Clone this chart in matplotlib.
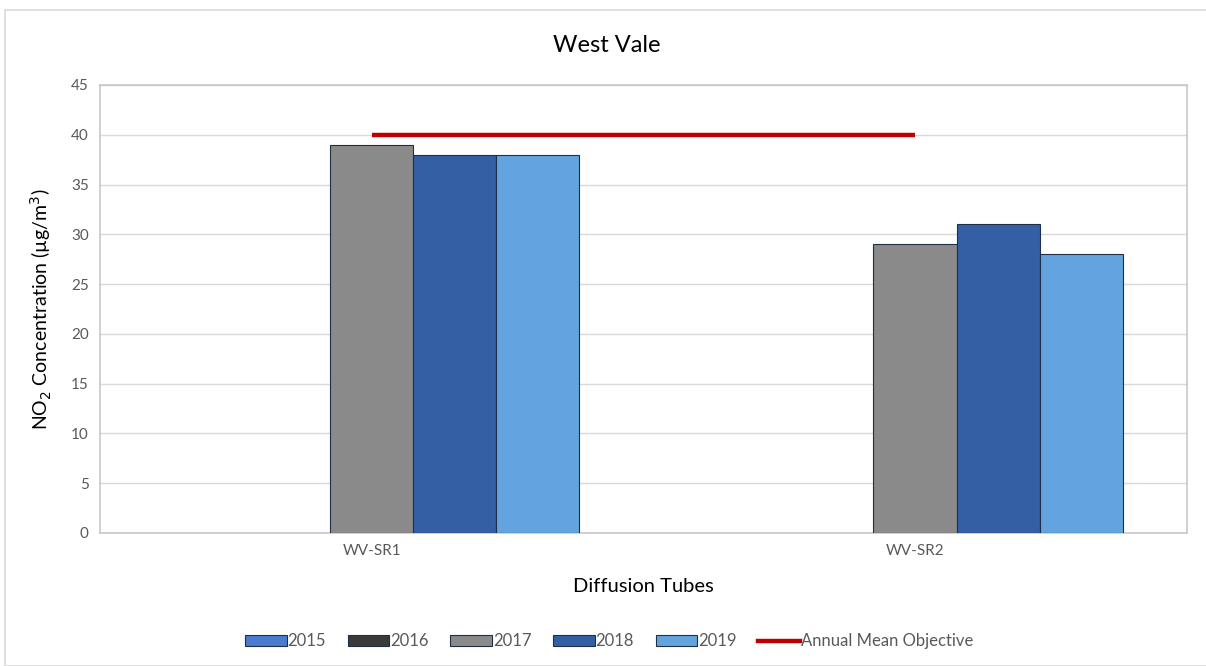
import numpy as np
import matplotlib
matplotlib.use("Agg")
import matplotlib.pyplot as plt
from matplotlib.patches import Rectangle
from matplotlib.lines import Line2D

plt.rcParams['font.family'] = ['Lato', 'DejaVu Sans']

sites = ['WV-SR1', 'WV-SR2']
years = ['2015', '2016', '2017', '2018', '2019']
values = {
    '2015': [np.nan, np.nan],
    '2016': [np.nan, np.nan],
    '2017': [39, 29],
    '2018': [38, 31],
    '2019': [38, 28],
}
objective = [40, 40]
colors = ['#4a7bcf', '#3a3a3a', '#8a8a8a', '#345fa5', '#63a4df']

fig = plt.figure(figsize=(12.06, 6.66), dpi=100)
ax = fig.add_axes([0.0829, 0.1997, 0.9011, 0.6727])

# outer chart border
fig.patches.append(Rectangle((0.004, 0.0), 1.2, 0.985, transform=fig.transFigure,
                             fill=False, edgecolor='#d9d9d9', linewidth=1.2))

x = np.arange(len(sites))
w = 0.153
for i, yr in enumerate(years):
    ax.bar(x + (i - 2) * w, values[yr], width=w, color=colors[i],
           edgecolor='#1f2f45', linewidth=0.8, zorder=3)

ax.plot(x, objective, color='#c00000', linewidth=3.2, zorder=4, solid_capstyle='butt')

ax.set_xlim(-0.5, 1.5)
ax.set_ylim(0, 45)
ax.set_yticks(range(0, 46, 5))
ax.set_xticks(x)
ax.set_xticklabels(sites)
ax.tick_params(axis='both', length=0, labelsize=11, labelcolor='#595959', pad=8)
ax.grid(axis='y', color='#d9d9d9', linewidth=1, zorder=0)
for s in ax.spines.values():
    s.set_color('#c8c8c8')
    s.set_linewidth(1.2)

fig.text(0.503, 0.932, 'West Vale', fontsize=17, ha='center', va='center')
ax.set_xlabel('Diffusion Tubes', fontsize=14.5, labelpad=14)
ax.set_ylabel('NO$_2$ Concentration (µg/m$^3$)', fontsize=14, labelpad=12)

handles = [Rectangle((0, 0), 1, 1, facecolor=c, edgecolor='#1f2f45', linewidth=0.8) for c in colors]
handles.append(Line2D([0], [0], color='#c00000', linewidth=3.2))
labels = years + ['Annual Mean Objective']
fig.legend(handles, labels, loc='center', bbox_to_anchor=(0.505, 0.037), ncol=6,
           frameon=False, fontsize=12, handlelength=2.5, handleheight=0.7,
           handletextpad=0.05, columnspacing=1.3, labelcolor='#595959')

fig.savefig('out.png', dpi=100)
